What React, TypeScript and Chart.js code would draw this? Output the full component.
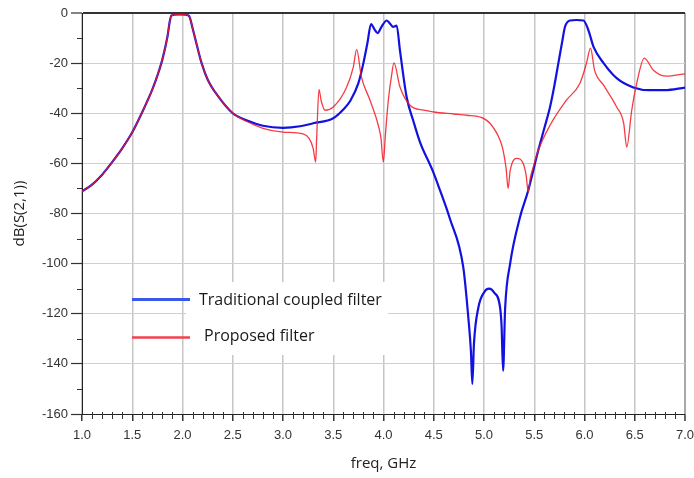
import React, { useEffect, useRef } from 'react';
import { Chart, registerables } from 'chart.js';

Chart.register(...registerables);

// ---- data ----
const seriesLabels = ['Traditional coupled filter', 'Proposed filter'];

const freqTraditional = [
  1.0, 1.1, 1.2, 1.3, 1.4, 1.5, 1.6, 1.7, 1.75, 1.8, 1.85, 1.875, 1.89, 1.95, 2.0, 2.06, 2.075,
  2.1, 2.15, 2.19, 2.25, 2.35, 2.5, 2.65, 2.8, 3.0, 3.17, 3.3, 3.5, 3.6, 3.67, 3.75, 3.8, 3.84,
  3.876, 3.91, 3.942, 3.98, 4.032, 4.07, 4.095, 4.131, 4.164, 4.23, 4.3, 4.363, 4.49, 4.56, 4.66,
  4.794, 4.844, 4.87, 4.884, 4.9, 4.944, 5.0, 5.05, 5.1, 5.16, 5.175, 5.19, 5.21, 5.26, 5.358,
  5.44, 5.54, 5.6, 5.657, 5.7, 5.74, 5.78, 5.806, 5.856, 5.92, 5.99, 6.04, 6.09, 6.19, 6.32,
  6.486, 6.65, 6.8, 7.0,
];
const dbTraditional = [
  -71.2, -68.5, -64.5, -59.5, -54, -47.6, -39.5, -30.5, -25, -18.5, -9.5, -3, -1, -0.6, -0.6, -1, -2,
  -6, -14, -20, -26.5, -33, -40, -43, -45, -45.8, -45.2, -44, -42, -38.5, -35, -28, -20, -12,
  -4.4, -6.5, -8, -5.5, -3, -4.5, -5.5, -5, -15, -33.5, -43.5, -51.5, -63, -70.5, -82,
  -101.5, -121.5, -135, -148, -132, -117.5, -111.5, -110, -111.5, -117.5, -125, -142.8, -118, -100, -81.5,
  -70.8, -54.8, -46, -37.5, -29, -20, -11, -5.5, -3, -2.8, -3, -7, -13.5, -20, -26,
  -29.7, -30.8, -30.8, -29.8,
];

const freqProposed = [
  1.0, 1.1, 1.2, 1.3, 1.4, 1.5, 1.6, 1.7, 1.75, 1.8, 1.85, 1.875, 1.89, 1.95, 2.0, 2.06, 2.075,
  2.1, 2.15, 2.19, 2.25, 2.35, 2.5, 2.65, 2.8, 3.0, 3.2, 3.26, 3.3, 3.325, 3.335, 3.358, 3.38,
  3.418, 3.5, 3.634, 3.7, 3.733, 3.78, 3.866, 3.948, 3.975, 3.998, 4.02, 4.048, 4.08, 4.104,
  4.164, 4.264, 4.4, 4.496, 4.7, 4.83, 4.96, 5.06, 5.16, 5.19, 5.22, 5.24, 5.26, 5.325, 5.39,
  5.42, 5.44, 5.46, 5.49, 5.54, 5.657, 5.82, 5.955, 6.02, 6.06, 6.1, 6.19, 6.32, 6.39, 6.42,
  6.47, 6.52, 6.595, 6.685, 6.82, 6.98, 7.0,
];
const dbProposed = [
  -71.2, -68.5, -64.5, -59.5, -54, -47.6, -39.5, -30.5, -25, -18.5, -9.5, -3, -1, -0.6, -0.6, -1, -2,
  -6, -14, -20, -26.5, -33, -40, -43.5, -46, -47.5, -48.2, -50, -54, -59.5, -50, -30.5, -35,
  -38.8, -37.5, -29.5, -21.5, -14.5, -25.5, -34.8, -44.8, -50, -59.5, -48, -34.8, -25, -19.9,
  -29.5, -36.8, -38.8, -39.5, -40.3, -40.8, -41.5, -44, -50.8, -54.8, -62, -70, -63, -58, -60,
  -65, -71.5, -66, -61.5, -54.8, -44.8, -34.8, -28, -20, -14, -22.8, -28.8, -37.5, -44, -53.5,
  -38.8, -28, -18, -22.8, -25.2, -24.4, -24.3,
];

const xMin = 1.0;
const xMax = 7.0;
const yMin = -160;
const yMax = 0;

const toPoints = (xs: number[], ys: number[]) => xs.map((x, i) => ({ x, y: ys[i] }));

const isMajorX = (v: number) => Math.round(v * 10) % 5 === 0;

const minorTicksPlugin = {
  id: 'minorTicks',
  afterDraw(chart: any) {
    const { ctx, scales } = chart;
    const xs = scales.x;
    const ys = scales.y;
    ctx.save();
    ctx.strokeStyle = '#333';
    ctx.lineWidth = 1;
    ctx.beginPath();
    for (let i = 10; i <= 70; i++) {
      const v = i / 10;
      if (isMajorX(v)) continue;
      const px = Math.round(xs.getPixelForValue(v)) + 0.5;
      ctx.moveTo(px, xs.top - 2);
      ctx.lineTo(px, xs.top + 5);
    }
    for (let v = yMin + 10; v < yMax; v += 20) {
      const py = Math.round(ys.getPixelForValue(v)) + 0.5;
      ctx.moveTo(ys.right - 5, py);
      ctx.lineTo(ys.right, py);
    }
    ctx.stroke();
    ctx.restore();
  },
};

const insetLegendPlugin = {
  id: 'insetLegend',
  afterDatasetsDraw(chart: any) {
    const { ctx, chartArea } = chart;
    const l = chartArea.left;
    const t = chartArea.top;
    ctx.save();
    ctx.fillStyle = '#ffffff';
    ctx.fillRect(l + 104, t + 269, 202, 73);
    const items = [
      { color: '#3a58e8', width: 3, y: t + 286.5, textX: l + 117, textY: t + 287.5 },
      { color: '#f0424f', width: 2.5, y: t + 324.5, textX: l + 122, textY: t + 323 },
    ];
    ctx.font = '16px "Open Sans"';
    ctx.textBaseline = 'middle';
    ctx.textAlign = 'left';
    items.forEach((it, i) => {
      ctx.strokeStyle = it.color;
      ctx.lineWidth = it.width;
      ctx.beginPath();
      ctx.moveTo(l + 50, it.y);
      ctx.lineTo(l + 108, it.y);
      ctx.stroke();
      ctx.fillStyle = '#1a1a1a';
      ctx.fillText(chart.data.datasets[i].label, it.textX, it.textY);
    });
    ctx.restore();
  },
};

export default function App() {
  const canvasRef = useRef<HTMLCanvasElement | null>(null);

  useEffect(() => {
    document.body.style.margin = '0';
    const canvas = canvasRef.current;
    if (!canvas) return;
    const chart = new Chart(canvas, {
      type: 'line',
      data: {
        datasets: [
          {
            label: seriesLabels[0],
            data: toPoints(freqTraditional, dbTraditional),
            borderColor: '#1212e0',
            borderWidth: 2.2,
            pointRadius: 0,
            cubicInterpolationMode: 'monotone',
            order: 2,
          },
          {
            label: seriesLabels[1],
            data: toPoints(freqProposed, dbProposed),
            borderColor: 'rgba(245,25,35,0.85)',
            borderWidth: 1.3,
            pointRadius: 0,
            cubicInterpolationMode: 'monotone',
            order: 1,
          },
        ],
      },
      options: {
        responsive: false,
        animation: false,
        events: [],
        layout: { padding: { left: 0, right: 9, top: 13, bottom: 0 } },
        plugins: {
          legend: { display: false },
          tooltip: { enabled: false },
        },
        scales: {
          x: {
            type: 'linear',
            min: xMin,
            max: xMax,
            afterFit: (s: any) => {
              s.height = 64;
              s.paddingRight = 0;
              s.paddingLeft = 0;
            },
            ticks: {
              stepSize: 0.5,
              autoSkip: false,
              padding: 7,
              color: '#333',
              font: { family: '"Liberation Sans", Arial, sans-serif', size: 13 },
              callback: (v: any) => Number(v).toFixed(1),
            },
            grid: {
              color: (c: any) => (c.tick && Math.abs(c.tick.value - xMax) < 1e-6 ? '#a8a8a8' : '#c6c6c6'),
              lineWidth: (c: any) => (c.tick && Math.abs(c.tick.value - xMax) < 1e-6 ? 2 : 1.5),
              tickColor: '#333',
              tickWidth: 1.5,
              tickLength: 7,
            },
            border: { display: true, color: '#222', width: 1 },
            title: {
              display: true,
              text: 'freq, GHz',
              color: '#222',
              font: { family: '"Open Sans", sans-serif', size: 15 },
              padding: { top: 0, bottom: 5 },
            },
          },
          y: {
            type: 'linear',
            min: yMin,
            max: yMax,
            afterFit: (s: any) => {
              s.width = 82;
            },
            ticks: {
              stepSize: 20,
              padding: 3,
              color: '#333',
              font: { family: '"Liberation Sans", Arial, sans-serif', size: 13 },
              callback: (v: any) => String(v),
            },
            grid: {
              color: (c: any) => (c.tick && c.tick.value === yMax ? '#333' : '#cfcfcf'),
              lineWidth: (c: any) => (c.tick && c.tick.value === yMax ? 2 : 1),
              tickColor: '#333',
              tickWidth: 1.2,
              tickLength: 11,
            },
            border: { display: true, color: '#222', width: 1 },
            title: {
              display: true,
              text: 'dB(S(2,1))',
              color: '#222',
              font: { family: '"Open Sans", sans-serif', size: 15 },
              padding: { top: 11, bottom: 0 },
            },
          },
        },
      },
      plugins: [minorTicksPlugin, insetLegendPlugin],
    } as any);
    return () => chart.destroy();
  }, []);

  return (
    <div style={{ position: 'absolute', left: 0, top: 0, width: 694, height: 478 }}>
      <canvas ref={canvasRef} width={694} height={478} />
    </div>
  );
}
